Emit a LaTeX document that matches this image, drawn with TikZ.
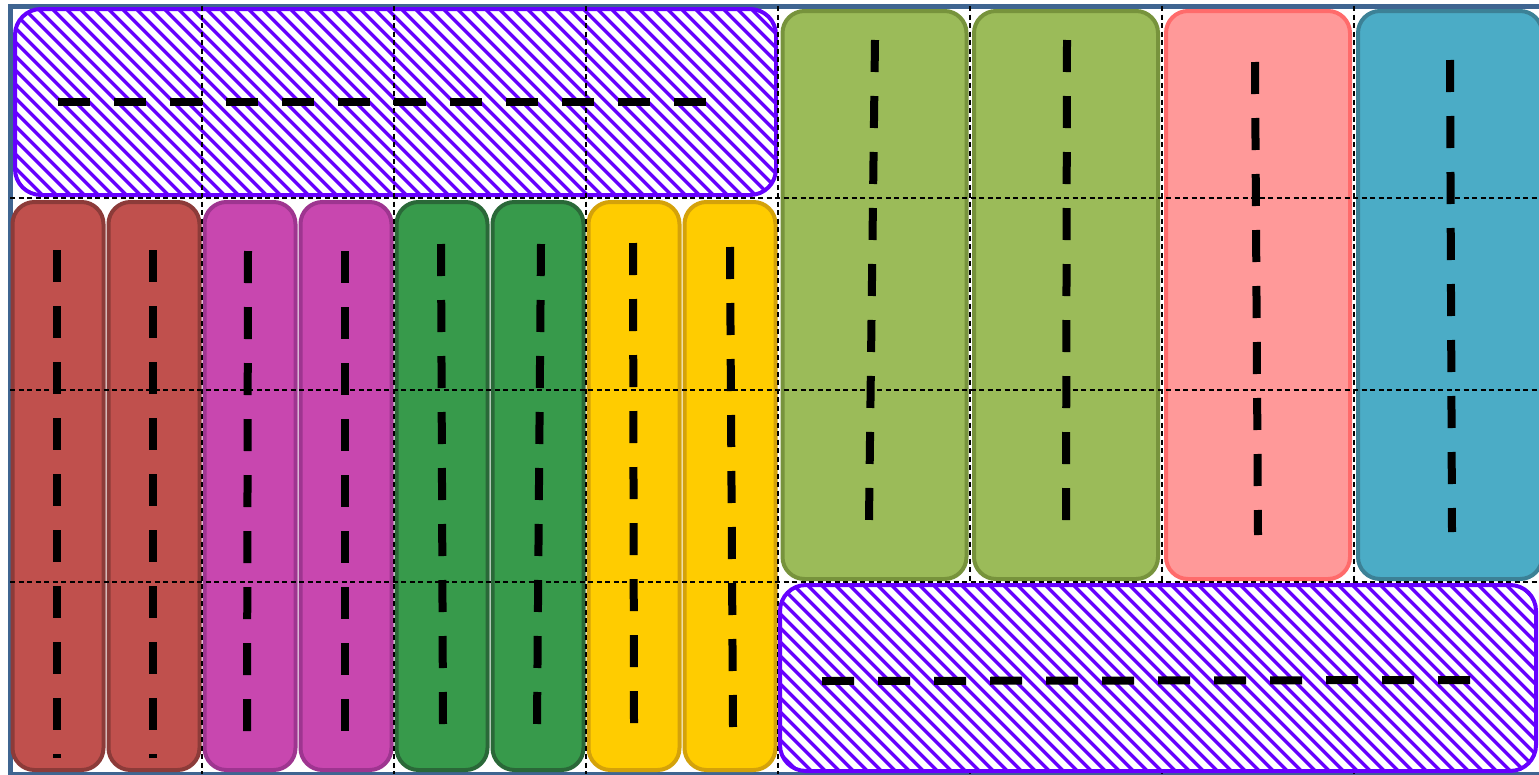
\documentclass[tikz,border=0pt]{standalone}
\usetikzlibrary{patterns.meta}
\definecolor{framecol}{HTML}{3F6591}
\definecolor{hatchcol}{HTML}{6600FF}
\definecolor{redfill}{HTML}{C0504D}
\definecolor{redline}{HTML}{8C3B39}
\definecolor{magfill}{HTML}{C847AF}
\definecolor{magline}{HTML}{9E3590}
\definecolor{grnfill}{HTML}{379A4B}
\definecolor{grnline}{HTML}{2A6838}
\definecolor{yelfill}{HTML}{FFCC00}
\definecolor{yelline}{HTML}{D4A20A}
\definecolor{limefill}{HTML}{9BBB59}
\definecolor{limeline}{HTML}{77933C}
\definecolor{pinkfill}{HTML}{FF9999}
\definecolor{pinkline}{HTML}{FF6B6B}
\definecolor{bluefill}{HTML}{4BACC6}
\definecolor{blueline}{HTML}{3C8196}

\begin{document}
\begin{tikzpicture}[x=1pt, y=-1pt,
    colbox/.style = {draw, rectangle, rounded corners=22pt, line width=4pt, minimum width=91pt, minimum height=568pt, inner sep=0pt},
    tallbox/.style = {colbox, minimum width=184pt},
    hatchbox/.style = {draw=hatchcol, rectangle, rounded corners=26pt, line width=4pt, minimum height=186pt, inner sep=0pt, preaction={fill=white}, pattern={Lines[angle=-45, distance=10.5pt, line width=3.8pt]}, pattern color=hatchcol},
    lane/.style = {line width=8pt, dash pattern=on 32pt off 24pt},
    gridline/.style = {line width=1.3pt, dash pattern=on 5pt off 3.5pt}]
    \useasboundingbox (0,0) rectangle (1539,774);
    \draw[framecol, line width=5pt, fill=white] (10,6) rectangle (1546,774);
    \node[colbox, fill=redfill, draw=redline] (r1) at (58,486) {};
    \node[colbox, fill=redfill, draw=redline] (r2) at (154,486) {};
    \node[colbox, fill=magfill, draw=magline] (m1) at (250,486) {};
    \node[colbox, fill=magfill, draw=magline] (m2) at (346,486) {};
    \node[colbox, fill=grnfill, draw=grnline] (g1) at (442,486) {};
    \node[colbox, fill=grnfill, draw=grnline] (g2) at (538,486) {};
    \node[colbox, fill=yelfill, draw=yelline] (y1) at (634,486) {};
    \node[colbox, fill=yelfill, draw=yelline] (y2) at (730,486) {};
    \node[tallbox, fill=limefill, draw=limeline] (l1) at (874.5,295) {};
    \node[tallbox, fill=limefill, draw=limeline] (l2) at (1066,295) {};
    \node[tallbox, fill=pinkfill, draw=pinkline] (p1) at (1258,295) {};
    \node[tallbox, fill=bluefill, draw=blueline] (b1) at (1450,295) {};
    \node[hatchbox, minimum width=761pt] (h1) at (395.5,102) {};
    \draw[gridline] (202,6) -- (202,774);
    \draw[gridline] (394,6) -- (394,774);
    \draw[gridline] (586,6) -- (586,774);
    \draw[gridline] (778,6) -- (778,774);
    \draw[gridline] (970,6) -- (970,774);
    \draw[gridline] (1162,6) -- (1162,774);
    \draw[gridline] (1354,6) -- (1354,774);
    \draw[gridline] (10,198) -- (1539,198);
    \draw[gridline] (10,390) -- (1539,390);
    \draw[gridline] (10,582) -- (1539,582);
    \node[hatchbox, minimum width=756pt] (h2) at (1158,678) {};
    \draw[lane] (57,250) -- (57,758);
    \draw[lane] (153,250) -- (153,758);
    \draw[lane] (248,251) -- (247,731);
    \draw[lane] (345,251) -- (345,731);
    \draw[lane] (441,244) -- (443,724);
    \draw[lane] (541,244) -- (537,724);
    \draw[lane] (633,243) -- (634,723);
    \draw[lane] (730,247) -- (733,727);
    \draw[lane] (875,40) -- (869,520);
    \draw[lane] (1067,40) -- (1066,520);
    \draw[lane] (1255,62) -- (1258,535);
    \draw[lane] (1450,60) -- (1452,532);
    \draw[lane] (58,102) -- (706,102);
    \draw[lane] (822,681) -- (1470,680);
\end{tikzpicture}
\end{document}
